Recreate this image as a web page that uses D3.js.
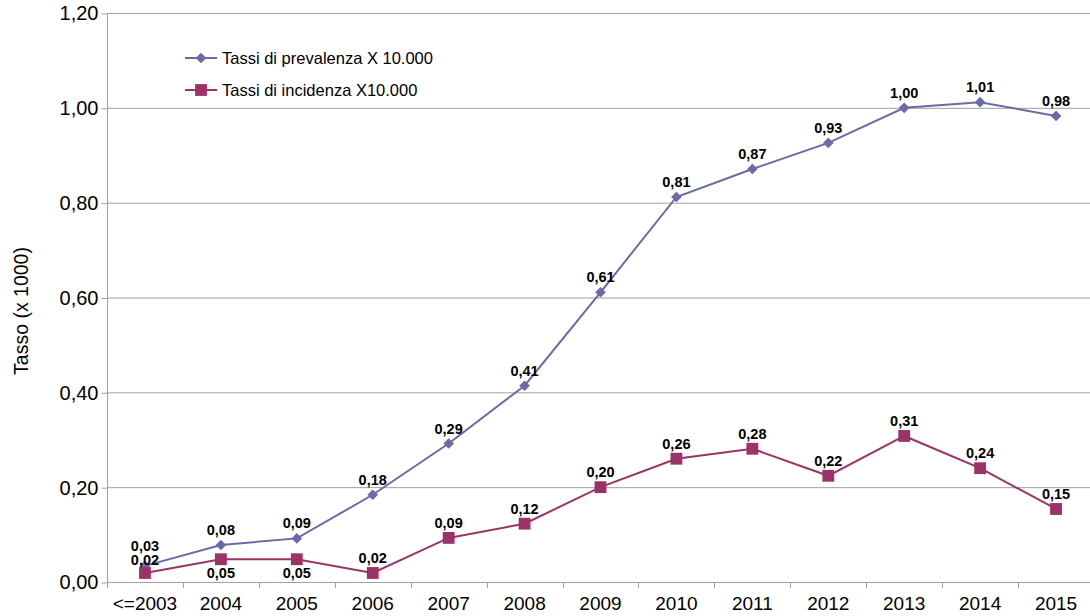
<!DOCTYPE html>
<html>
<head>
<meta charset="utf-8">
<script src="https://cdn.jsdelivr.net/npm/d3@7"></script>
<style>
  body { margin: 0; background: #fff; }
  svg { display: block; font-family: "Liberation Sans", Arial, sans-serif; }
</style>
</head>
<body>
<div id="chart"></div>
<script>
const years = ['<=2003', '2004', '2005', '2006', '2007', '2008', '2009', '2010', '2011', '2012', '2013', '2014', '2015'];
const prevalenza = [0.034, 0.078, 0.092, 0.184, 0.292, 0.414, 0.611, 0.812, 0.871, 0.926, 1.0, 1.012, 0.983];
const incidenza = [0.019, 0.048, 0.048, 0.019, 0.093, 0.123, 0.2, 0.26, 0.281, 0.224, 0.308, 0.24, 0.154];
const yTicks = [0, 0.2, 0.4, 0.6, 0.8, 1.0, 1.2];
const seriesNames = ['Tassi di prevalenza X 10.000', 'Tassi di incidenza X10.000'];

const width = 1090, height = 616;
const margin = { top: 13, right: -4, bottom: 34, left: 107 };

const locale = d3.formatLocale({ decimal: ',', thousands: '.', grouping: [3], currency: ['€', ''] });
const fmt = locale.format('.2f');

const svg = d3.select('#chart').append('svg')
    .attr('width', width)
    .attr('height', height);

const x = d3.scaleBand()
    .domain(years)
    .range([margin.left, width - margin.right]);

const y = d3.scaleLinear()
    .domain([0, 1.2])
    .range([height - margin.bottom, margin.top]);

// gridlines
svg.append('g')
    .selectAll('line')
    .data(yTicks.slice(1))
    .enter().append('line')
    .attr('x1', margin.left)
    .attr('x2', width)
    .attr('y1', d => y(d) + 0.5)
    .attr('y2', d => y(d) + 0.5)
    .attr('stroke', '#a0a0a0')
    .attr('stroke-width', 1);

// y axis
const yAxis = svg.append('g')
    .attr('transform', 'translate(' + (margin.left + 0.5) + ',0.5)')
    .call(d3.axisLeft(y).tickValues(yTicks).tickFormat(fmt).tickSize(6).tickPadding(3));
yAxis.select('.domain').attr('stroke', '#a0a0a0').attr('d', 'M0,' + y(1.2) + 'V' + y(0));
yAxis.selectAll('.tick line').attr('stroke', '#a0a0a0');
yAxis.selectAll('text').attr('font-size', 20).attr('fill', '#000').attr('font-family', '"Liberation Sans", Arial, sans-serif');

// x axis with ticks at band boundaries
const xAxis = svg.append('g')
    .attr('transform', 'translate(0,' + (y(0) + 0.5) + ')')
    .call(d3.axisBottom(x).tickSize(0).tickPadding(14));
xAxis.select('.domain').attr('stroke', '#a0a0a0').attr('d', 'M' + margin.left + ',0H' + width);
xAxis.selectAll('text').attr('font-size', 19).attr('fill', '#000').attr('font-family', '"Liberation Sans", Arial, sans-serif');
svg.append('g')
    .selectAll('line')
    .data(years)
    .enter().append('line')
    .attr('x1', d => Math.round(x(d)) + 0.5)
    .attr('x2', d => Math.round(x(d)) + 0.5)
    .attr('y1', y(0))
    .attr('y2', y(0) + 6)
    .attr('stroke', '#a0a0a0');

// axis title
svg.append('text')
    .attr('transform', 'translate(28,' + 311 + ') rotate(-90)')
    .attr('text-anchor', 'middle')
    .attr('font-size', 19.5)
    .text('Tasso (x 1000)');

const cx = d => x(d) + x.bandwidth() / 2;
const colPrev = '#6a6aa8';
const colInc = '#9c3366';

const line = d3.line().x(d => cx(d.year)).y(d => y(d.v));
const prevData = years.map((yr, i) => ({ year: yr, v: prevalenza[i] }));
const incData = years.map((yr, i) => ({ year: yr, v: incidenza[i] }));

svg.append('path').datum(prevData)
    .attr('d', line).attr('fill', 'none').attr('stroke', colPrev).attr('stroke-width', 2);
svg.append('path').datum(incData)
    .attr('d', line).attr('fill', 'none').attr('stroke', colInc).attr('stroke-width', 2);

const diamond = d3.symbol().type(d3.symbolDiamond2 || d3.symbolDiamond).size(72);
const square = d3.symbol().type(d3.symbolSquare).size(140);

svg.append('g').selectAll('path')
    .data(prevData)
    .enter().append('path')
    .attr('d', diamond)
    .attr('transform', d => 'translate(' + cx(d.year) + ',' + y(d.v) + ')')
    .attr('fill', colPrev);

svg.append('g').selectAll('path')
    .data(incData)
    .enter().append('path')
    .attr('d', square)
    .attr('transform', d => 'translate(' + cx(d.year) + ',' + y(d.v) + ')')
    .attr('fill', colInc);

// data labels
svg.append('g').selectAll('text')
    .data(prevData)
    .enter().append('text')
    .attr('x', d => cx(d.year))
    .attr('y', d => d.year === '<=2003' ? y(d.v) - 15 : y(d.v) - 10)
    .attr('text-anchor', 'middle')
    .attr('font-size', 14.5)
    .attr('font-weight', 'bold')
    .text(d => fmt(d.v));

const below = ['2004', '2005'];
svg.append('g').selectAll('text')
    .data(incData)
    .enter().append('text')
    .attr('x', d => cx(d.year))
    .attr('y', d => below.includes(d.year) ? y(d.v) + 19 : (d.year === '<=2003' ? y(d.v) - 8 : y(d.v) - 10))
    .attr('text-anchor', 'middle')
    .attr('font-size', 14.5)
    .attr('font-weight', 'bold')
    .text(d => fmt(d.v));

// legend
const legend = svg.append('g').attr('transform', 'translate(185,58)');
[[seriesNames[0], colPrev, diamond], [seriesNames[1], colInc, square]].forEach((s, i) => {
    const g = legend.append('g').attr('transform', 'translate(0,' + i * 32 + ')');
    g.append('line').attr('x1', 0).attr('x2', 32).attr('stroke', s[1]).attr('stroke-width', 2);
    g.append('path').attr('d', s[2]).attr('transform', 'translate(16,0)').attr('fill', s[1]);
    g.append('text').attr('x', 37).attr('dy', '0.35em').attr('font-size', 16.5).text(s[0]);
});
</script>
</body>
</html>
